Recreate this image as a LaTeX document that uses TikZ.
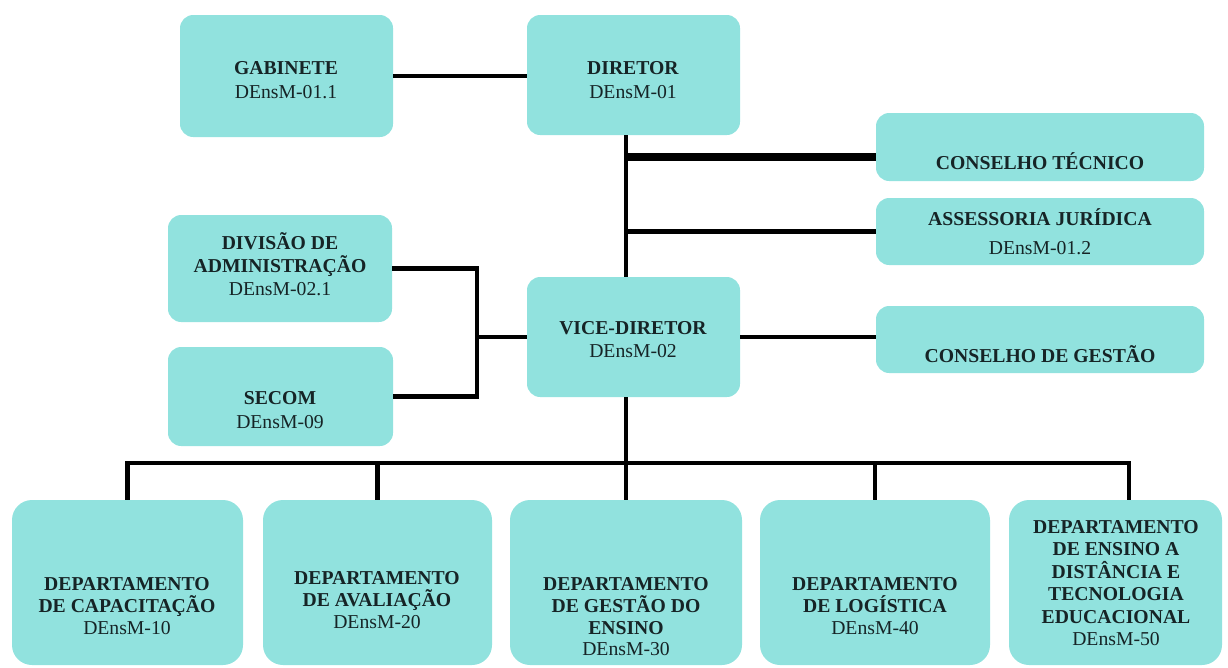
\documentclass[tikz,border=0pt]{standalone}
\usepackage{fontspec}
\setmainfont{Liberation Serif}
\usetikzlibrary{fit}
\definecolor{boxfill}{RGB}{145,226,222}
\definecolor{boxtext}{RGB}{22,36,38}
\providecommand{\boxfont}{\fontsize{14pt}{15.4pt}\selectfont}

\begin{document}
\begin{tikzpicture}[x=0.025cm,y=-0.025cm,
    unit/.style={fill=boxfill,draw=none,rounded corners=0.33cm,inner sep=0pt},
    dept/.style={unit,rounded corners=0.5cm},
    label text/.style={text=boxtext,align=center,font=\boxfont,inner sep=0pt},
    link/.style={line width=3.2pt},
    heavy link/.style={line width=5.5pt}]
    \useasboundingbox (0,0) rectangle (1228,667);
    % direction
    \node[unit,fit={(180,15) (393,137)}] (gab) {};
    \node[unit,fit={(527,15) (740,135)}] (dir) {};
    \node[unit,fit={(527,277) (740,397)}] (vice) {};
    % staff on the right
    \node[unit,fit={(876,113) (1204,181)}] (ct) {};
    \node[unit,fit={(876,198) (1204,265)}] (aj) {};
    \node[unit,fit={(876,306) (1204,373)}] (cg) {};
    % staff on the left
    \node[unit,fit={(168,215) (392,322)}] (div) {};
    \node[unit,fit={(168,347) (393,446)}] (secom) {};
    % departments
    \node[dept,fit={(12,500) (243,665)}] (d1) {};
    \node[dept,fit={(263,500) (492,665)}] (d2) {};
    \node[dept,fit={(510,500) (742,665)}] (d3) {};
    \node[dept,fit={(760,500) (990,665)}] (d4) {};
    \node[dept,fit={(1009,500) (1222,665)}] (d5) {};

    \node[label text] (gab-t) at (286,80) {\textbf{GABINETE}\\[2pt]DEnsM-01.1};
    \node[label text] (dir-t) at (633,80) {\textbf{DIRETOR}\\[2pt]DEnsM-01};
    \node[label text] (vice-t) at (633,340) {\textbf{VICE-DIRETOR}\\[1pt]DEnsM-02};
    \node[label text] (ct-t) at (1040,161) {\textbf{CONSELHO TÉCNICO}};
    \node[label text] (aj-t) at (1040,232) {\textbf{ASSESSORIA JURÍDICA}\\[5pt]DEnsM-01.2};
    \node[label text] (cg-t) at (1040,354) {\textbf{CONSELHO DE GESTÃO}};
    \node[label text] (div-t) at (280,264) {\textbf{DIVISÃO DE}\\[1pt]\textbf{ADMINISTRAÇÃO}\\[1pt]DEnsM-02.1};
    \node[label text] (secom-t) at (280,410) {\textbf{SECOM}\\[2pt]DEnsM-09};
    \node[label text] (d1-t) at (127,606) {\textbf{DEPARTAMENTO}\\\textbf{DE CAPACITAÇÃO}\\DEnsM-10};
    \node[label text] (d2-t) at (377,600) {\textbf{DEPARTAMENTO}\\\textbf{DE AVALIAÇÃO}\\DEnsM-20};
    \node[label text] (d3-t) at (626,617) {\textbf{DEPARTAMENTO}\\\textbf{DE GESTÃO DO}\\\textbf{ENSINO}\\DEnsM-30};
    \node[label text] (d4-t) at (875,606) {\textbf{DEPARTAMENTO}\\\textbf{DE LOGÍSTICA}\\DEnsM-40};
    \node[label text] (d5-t) at (1116,583) {\textbf{DEPARTAMENTO}\\[0.6pt]\textbf{DE ENSINO A}\\[0.6pt]\textbf{DISTÂNCIA E}\\[0.6pt]\textbf{TECNOLOGIA}\\[0.6pt]\textbf{EDUCACIONAL}\\[0.6pt]DEnsM-50};

    \coordinate (tr) at (626,0);
    \coordinate (lb) at (477,0);
    \coordinate (bus) at (0,463);
    \coordinate (d5top) at ([xshift=9.6pt]d5.north);

    \draw[line width=2.6pt] (gab.east) -- (gab.east -| dir.west);
    \draw[link] (dir.south -| tr) -- (vice.north -| tr);
    \draw[heavy link] ([yshift=-7pt]ct.west) coordinate (ct-in) -- (ct-in -| tr);
    \draw[link] (aj.west) -- (aj.west -| tr);
    \draw[link] (vice.east) -- (vice.east -| cg.west);
    \draw[link] (div.east) -| (lb |- secom.east) -- (secom.east);
    \draw[link] (vice.west) -- (vice.west -| lb);
    \draw[link] (vice.south -| tr) -- (d3.north -| tr);
    \draw[link] (d1.north) -- (d1.north |- bus) -- (d5top |- bus) -- (d5top);
    \foreach \d in {d2,d4}
        \draw[link] (\d.north) -- (\d.north |- bus);
\end{tikzpicture}
\end{document}
